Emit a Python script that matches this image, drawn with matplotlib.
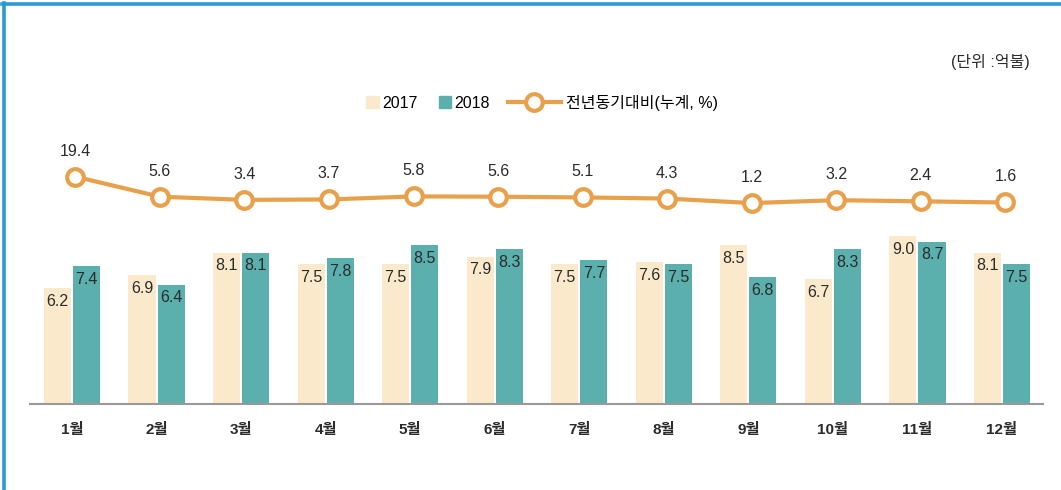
import matplotlib.pyplot as plt
import numpy as np
from matplotlib.lines import Line2D
from matplotlib.patches import Patch

plt.rcParams['font.family'] = ['Liberation Sans', 'Noto Sans CJK KR', 'DejaVu Sans']

months = ['1월', '2월', '3월', '4월', '5월', '6월', '7월', '8월', '9월', '10월', '11월', '12월']
y2017 = [6.2, 6.9, 8.1, 7.5, 7.5, 7.9, 7.5, 7.6, 8.5, 6.7, 9.0, 8.1]
y2018 = [7.4, 6.4, 8.1, 7.8, 8.5, 8.3, 7.7, 7.5, 6.8, 8.3, 8.7, 7.5]
yoy = [19.4, 5.6, 3.4, 3.7, 5.8, 5.6, 5.1, 4.3, 1.2, 3.2, 2.4, 1.6]

c2017 = '#FAEACB'
c2018 = '#5BAFAD'
corange = '#E9A04B'
ctext = '#2b2b2b'

W, H = 1061, 490
fig = plt.figure(figsize=(W / 100, H / 100), dpi=100)
ax = fig.add_axes([30 / W, 86 / H, 1013 / W, 294 / H])

x = np.arange(len(months))
bw = 0.32
off = 0.172
ax.bar(x - off, y2017, bw, color=c2017)
ax.bar(x + off, y2018, bw, color=c2018)

for xi, v in zip(x, y2017):
    ax.annotate(f'{v:.1f}', (xi - off, v), xytext=(0, -4), textcoords='offset points',
                ha='center', va='top', fontsize=11.5, color=ctext)
for xi, v in zip(x, y2018):
    ax.annotate(f'{v:.1f}', (xi + off, v), xytext=(0, -4), textcoords='offset points',
                ha='center', va='top', fontsize=11.5, color=ctext)

ax.set_xlim(-0.497, 11.485)
ax.set_ylim(0, 15.76)
for s in ['top', 'right', 'left']:
    ax.spines[s].set_visible(False)
ax.spines['bottom'].set_color('#999999')
ax.spines['bottom'].set_linewidth(1.5)
ax.set_yticks([])
ax.set_xticks(x)
ax.set_xticklabels(months, fontsize=11, color=ctext, fontweight='bold')
ax.tick_params(axis='x', length=0, pad=14)

ax2 = ax.twinx()
ax2.set_ylim(-137.4, 65.4)
ax2.plot(x + 0.04, yoy, color=corange, lw=3, marker='o', ms=12, mfc='white',
         mec=corange, mew=3, zorder=5)
for xi, v in zip(x, yoy):
    ax2.annotate(f'{v:.1f}', (xi + 0.04, v), xytext=(0, 13), textcoords='offset points',
                 ha='center', va='bottom', fontsize=11.5, color=ctext)
ax2.axis('off')

# legend: squares for bars, then the line item
ly = 1 - 103 / H
fig.legend([Patch(color=c2017), Patch(color=c2018)], ['2017', '2018'], loc='center right',
           bbox_to_anchor=(490 / W, ly), ncol=2, frameon=False, fontsize=11.5,
           handlelength=0.8, handleheight=0.8, handletextpad=0.2, columnspacing=1.3,
           borderpad=0, borderaxespad=0)
fig.legend([Line2D([], [], color=corange, lw=3, marker='o', ms=12, mfc='white', mec=corange, mew=3)],
           ['전년동기대비(누계, %)'], loc='center left', bbox_to_anchor=(508 / W, ly),
           frameon=False, fontsize=11.5, handlelength=3.3, handletextpad=0.35,
           borderpad=0, borderaxespad=0)

fig.text(1030 / W, 1 - 62 / H, '(단위 :억불)', ha='right', va='center', fontsize=11.5, color=ctext)

# blue frame at top and left
fig.add_artist(Line2D([2 / W, 1], [1 - 4.5 / H, 1 - 4.5 / H], color='#2A9BD0', lw=2.6,
                      transform=fig.transFigure))
fig.add_artist(Line2D([4 / W, 4 / W], [0, 1 - 3 / H], color='#2A9BD0', lw=2.6,
                      transform=fig.transFigure))

plt.savefig('out.png')
